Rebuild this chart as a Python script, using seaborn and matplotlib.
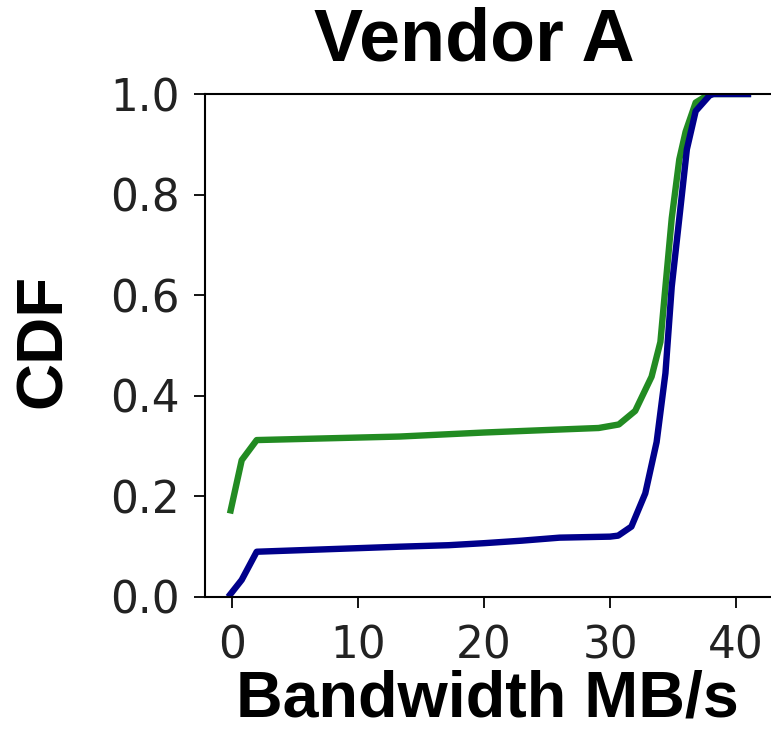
import numpy as np
import pandas as pd
import matplotlib
matplotlib.use("Agg")
import matplotlib.pyplot as plt
import seaborn as sns

# CDF of measured bandwidth (MB/s) for the two runs of Vendor A
green_x = [-0.16, 0.77, 1.96, 13.3, 20.0, 25.0, 29.1, 30.7, 32.0, 33.3, 34.0,
           34.4, 34.9, 35.5, 36.0, 36.8, 37.9, 41.2]
green_y = [0.166, 0.272, 0.312, 0.319, 0.327, 0.332, 0.336, 0.343, 0.370, 0.438, 0.507,
           0.617, 0.753, 0.870, 0.925, 0.983, 1.000, 1.000]

blue_x = [-0.30, 0.77, 1.96, 13.3, 17.2, 20.0, 23.0, 26.0, 30.0, 30.65, 31.7, 32.8,
          33.7, 34.4, 34.9, 35.5, 36.1, 36.8, 37.9, 38.2, 41.2]
blue_y = [0.000, 0.034, 0.090, 0.100, 0.103, 0.107, 0.112, 0.118, 0.120, 0.122, 0.140, 0.206,
          0.308, 0.445, 0.617, 0.753, 0.890, 0.966, 0.997, 1.000, 1.000]

x_ticks = [0, 10, 20, 30, 40]
y_ticks = [0.0, 0.2, 0.4, 0.6, 0.8, 1.0]

sns.set_style("ticks")
plt.rcParams["font.family"] = ["DejaVu Sans"]

W, H = 771, 742
fig = plt.figure(figsize=(W / 100, H / 100), dpi=100)
left, right, top, bottom = 205, 780, 94, 597
ax = fig.add_axes([left / W, 1 - bottom / H, (right - left) / W, (bottom - top) / H])

green_df = pd.DataFrame({"bw": green_x, "cdf": green_y})
blue_df = pd.DataFrame({"bw": blue_x, "cdf": blue_y})
line_kw = dict(sort=False, lw=4.6, solid_joinstyle="round", solid_capstyle="butt", ax=ax)
sns.lineplot(data=green_df, x="bw", y="cdf", color="#228B22", **line_kw)
sns.lineplot(data=blue_df, x="bw", y="cdf", color="#00008B", **line_kw)

# x range chosen so that the data area runs past the right edge of the canvas
px_per_unit = 12.6
ax.set_xlim((left - 232) / px_per_unit, (right - 232) / px_per_unit)
ax.set_ylim(0, 1.0)
ax.set_xticks(x_ticks)
ax.set_yticks(y_ticks)
ax.set_xticklabels([str(t) for t in x_ticks])
ax.set_yticklabels([f"{t:.1f}" for t in y_ticks])

for s in ["left", "bottom", "top"]:
    ax.spines[s].set_visible(True)
    ax.spines[s].set_linewidth(1.5)
    ax.spines[s].set_color("black")
ax.spines["right"].set_visible(False)

ax.tick_params(axis="both", which="major", labelsize=31.5, length=8, width=1.3,
               color="black", labelcolor="#222222", direction="out")
ax.tick_params(axis="x", pad=12)
ax.tick_params(axis="y", pad=10)

bold = dict(family="Liberation Sans", weight="bold", color="black")
ax.set_title("Vendor A", fontsize=53, x=(474 - left) / (right - left), pad=24, **bold)
ax.set_xlabel("Bandwidth MB/s", fontsize=46.5, **bold)
ax.set_ylabel("CDF", fontsize=47, **bold)
ax.xaxis.set_label_coords((487 - left) / (right - left), -(670 - bottom) / (bottom - top))
ax.yaxis.set_label_coords(-(left - 74) / (right - left), (bottom - 341) / (bottom - top))

fig.savefig("out.png", dpi=100)
